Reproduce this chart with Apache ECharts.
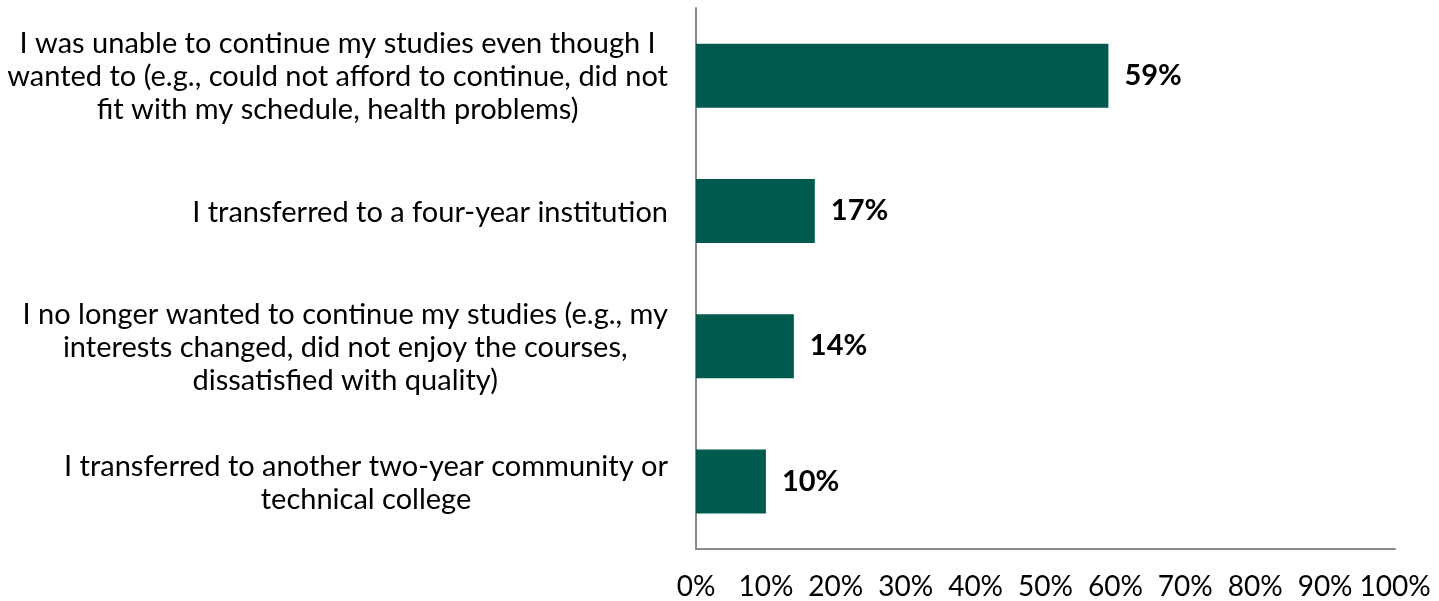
<!DOCTYPE html>
<html>
<head>
<meta charset="utf-8">
<script src="https://cdn.jsdelivr.net/npm/echarts@6/dist/echarts.min.js"></script>
<style>
  html, body { margin: 0; padding: 0; background: #ffffff; }
  #chart { width: 1439px; height: 601px; }
</style>
</head>
<body>
<div id="chart"></div>
<script>
// Reasons for leaving, share of respondents (%)
const categories = [
  'I was unable to continue my studies even though I\nwanted to (e.g., could not afford to continue, did not\nfit with my schedule, health problems)',
  'I transferred to a four-year institution',
  'I no longer wanted to continue my studies (e.g., my\ninterests changed, did not enjoy the courses,\ndissatisfied with quality)',
  'I transferred to another two-year community or\ntechnical college'
];
const values = [59, 17, 14, 10];
const xTicks = [0, 10, 20, 30, 40, 50, 60, 70, 80, 90, 100];

const FONT = 'Lato';
const axisGray = '#8a8a8a';

const chart = echarts.init(document.getElementById('chart'), null, { renderer: 'canvas' });

chart.setOption({
  animation: false,
  textStyle: { fontFamily: FONT },
  grid: { left: 696, right: 44, top: 8, bottom: 50, containLabel: false },
  xAxis: {
    type: 'value',
    min: xTicks[0],
    max: xTicks[xTicks.length - 1],
    interval: 10,
    axisLine: { show: true, lineStyle: { color: axisGray, width: 2 } },
    axisTick: { show: false },
    splitLine: { show: false },
    axisLabel: {
      margin: 24,
      fontSize: 28,
      color: '#000000',
      fontFamily: FONT,
      formatter: v => v + '%'
    }
  },
  yAxis: {
    type: 'category',
    inverse: true,
    data: categories,
    axisLine: { show: true, lineStyle: { color: axisGray, width: 2 } },
    axisTick: { show: false },
    axisLabel: {
      margin: 28,
      color: '#000000',
      fontFamily: FONT,
      fontSize: 29,
      lineHeight: 33,
      formatter: v => v.split('\n').map(line => '{c|' + line + '}').join('\n'),
      rich: {
        c: { align: 'center', fontSize: 29, lineHeight: 33, fontFamily: FONT, color: '#000000', padding: [3, 0, 0, 0] }
      }
    }
  },
  series: [{
    type: 'bar',
    data: values,
    barWidth: 64,
    itemStyle: { color: '#005a4e' },
    label: {
      show: true,
      position: 'right',
      distance: 16,
      fontFamily: FONT,
      fontWeight: 'bold',
      fontSize: 29,
      color: '#000000',
      formatter: p => p.value + '%'
    }
  }]
});
</script>
</body>
</html>
